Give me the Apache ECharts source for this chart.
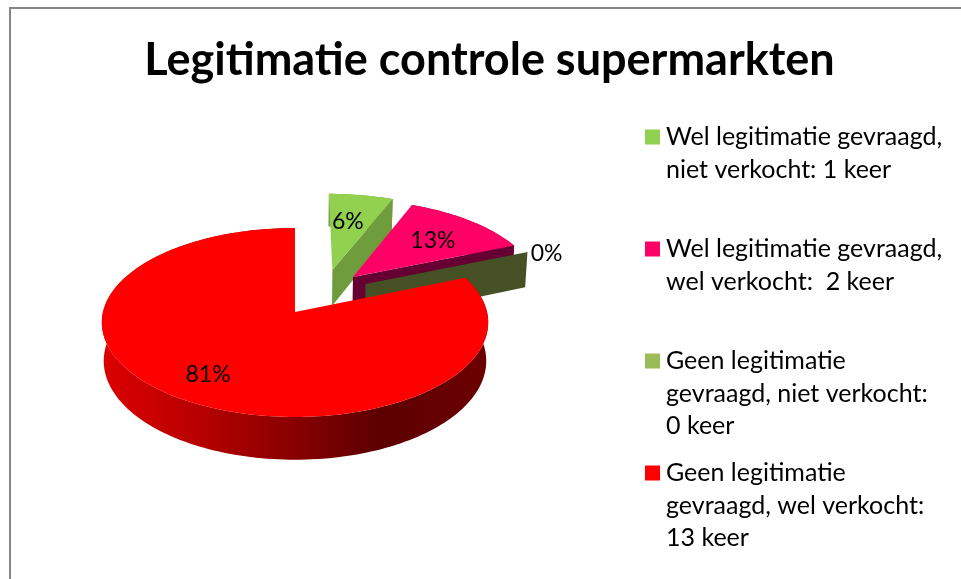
<!DOCTYPE html>
<html><head><meta charset="utf-8">
<style>html,body{margin:0;padding:0;background:#fff}#c{width:961px;height:579px}</style>
<script src="https://cdn.jsdelivr.net/npm/echarts@6/dist/echarts.min.js"></script>
</head><body><div id="c"></div>
<script>
const chartTitle = 'Legitimatie controle supermarkten';
const categories = [
  'Wel legitimatie gevraagd,\nniet verkocht: 1 keer',
  'Wel legitimatie gevraagd,\nwel verkocht:  2 keer',
  'Geen legitimatie\ngevraagd, niet verkocht:\n0 keer',
  'Geen legitimatie\ngevraagd, wel verkocht:\n13 keer'
];
const values = [1, 2, 0, 13];
const topColors = ['#92d050', '#ff0066', '#9bbb59', '#ff0000'];
const sideColors = ['#6f9c3c', '#660033', '#455124', null];

// 3D projection of the pie (a tilted disc seen in perspective)
const CX = 295, CY = 312, RX = 192, RY = 93.3, P = 0.111, DEPTH = 38;
// exploded offset on the disc plane, per slice
const explode = [[0.205, 0.474], [0.315, 0.39], [0.38, 0.31], [0, 0]];
const labelRadius = [0.62, 0.65, 1.13, 0.75];
const labelDy = [0, 1, 6, 0];
const labelDx = [-3, 2, -1, -1];

const total = values.reduce((a, b) => a + b, 0);
const starts = [];
values.reduce((acc, v, i) => { starts[i] = acc; return acc + v; }, 0);

function proj(u, v) {
  const d = 1 + P * v;
  return [CX + RX * u / d, CY - RY * v / d];
}
function down(u, v) {
  const p = proj(u, v), d = 1 + P * v;
  return [CX + (p[0] - CX) * 0.99, p[1] + DEPTH / d];
}
function rim(i, deg, r, fn) {
  const a = deg * Math.PI / 180;
  return (fn || proj)(explode[i][0] + r * Math.sin(a), explode[i][1] + r * Math.cos(a));
}

function renderSlice(i) {
  return function (params, api) {
    const value = api.value(0);
    const a0 = starts[i] / total * 360, a1 = a0 + value / total * 360;
    const children = [];
    const steps = Math.max(1, Math.ceil((a1 - a0) / 1.5));
    const arcTop = [], arcBot = [];
    for (let s = 0; s <= steps; s++) {
      const a = a0 + (a1 - a0) * s / steps;
      arcTop.push(rim(i, a, 1));
      arcBot.push(rim(i, a, 1, down));
    }
    const side = sideColors[i] || {
      type: 'linear', x: 100, y: 0, x2: 488, y2: 0, global: true,
      colorStops: [
        { offset: 0, color: '#dc0000' }, { offset: 0.25, color: '#b80000' },
        { offset: 0.5, color: '#880000' }, { offset: 0.72, color: '#5c0000' },
        { offset: 1, color: '#6c0000' }
      ]
    };
    if (value > 0) {
      children.push({ type: 'polygon', shape: { points: arcTop.concat(arcBot.slice().reverse()) }, style: { fill: side } });
    }
    if (a1 < 90) {
      children.push({ type: 'polygon', shape: { points: [
        rim(i, a1, 0), rim(i, a1, 1), rim(i, a1, 1, down), rim(i, a1, 0, down)
      ] }, style: { fill: side } });
    }
    if (value > 0) {
      children.push({ type: 'polygon', shape: { points: [rim(i, a0, 0)].concat(arcTop) }, style: { fill: topColors[i] } });
    }
    const lp = rim(i, (a0 + a1) / 2, labelRadius[i]);
    children.push({
      type: 'text', z2: 100, x: lp[0] + labelDx[i], y: lp[1] + labelDy[i],
      style: {
        text: Math.round(value / total * 100) + '%', fill: '#000',
        font: '23px Lato, sans-serif', align: 'center', verticalAlign: 'middle'
      }
    });
    return { type: 'group', children };
  };
}

const LH = 32.5;
const legendTops = [121, 233, 345, 457];
const legends = categories.map((name, i) => {
  const lines = name.split('\n').length, h = lines * LH;
  return {
    data: [name], left: 645, top: legendTops[i], padding: 0, orient: 'vertical',
    selectedMode: false, itemWidth: 15, itemHeight: h, itemGap: 0,
    // square sits on the first text line
    icon: 'path://M0,8.5H15V23.5H0Z M0,0L0,0 M0,' + h + 'L0,' + h + ' M15,0L15,0',
    textStyle: { fontFamily: 'Lato, sans-serif', fontSize: 25, lineHeight: LH, color: '#000', padding: [0, 0, 0, 1] }
  };
});

const chart = echarts.init(document.getElementById('c'), null, { renderer: 'canvas' });
chart.setOption({
  animation: false,
  backgroundColor: '#fff',
  title: {
    text: chartTitle, left: 484.5, top: 33, textAlign: 'center',
    textStyle: { fontFamily: 'Lato, sans-serif', fontWeight: 'bold', fontSize: 45, color: '#000' }
  },
  legend: legends,
  graphic: [{
    type: 'rect', silent: true, z: -1,
    shape: { x: 10, y: 8, width: 1000, height: 620 },
    style: { fill: '#fff', stroke: '#868686', lineWidth: 2 }
  }],
  series: categories.map((name, i) => ({
    type: 'custom', name, coordinateSystem: 'none', silent: true,
    itemStyle: { color: topColors[i] },
    data: [[values[i]]],
    encode: { value: 0 },
    renderItem: renderSlice(i)
  }))
});
</script></body></html>
